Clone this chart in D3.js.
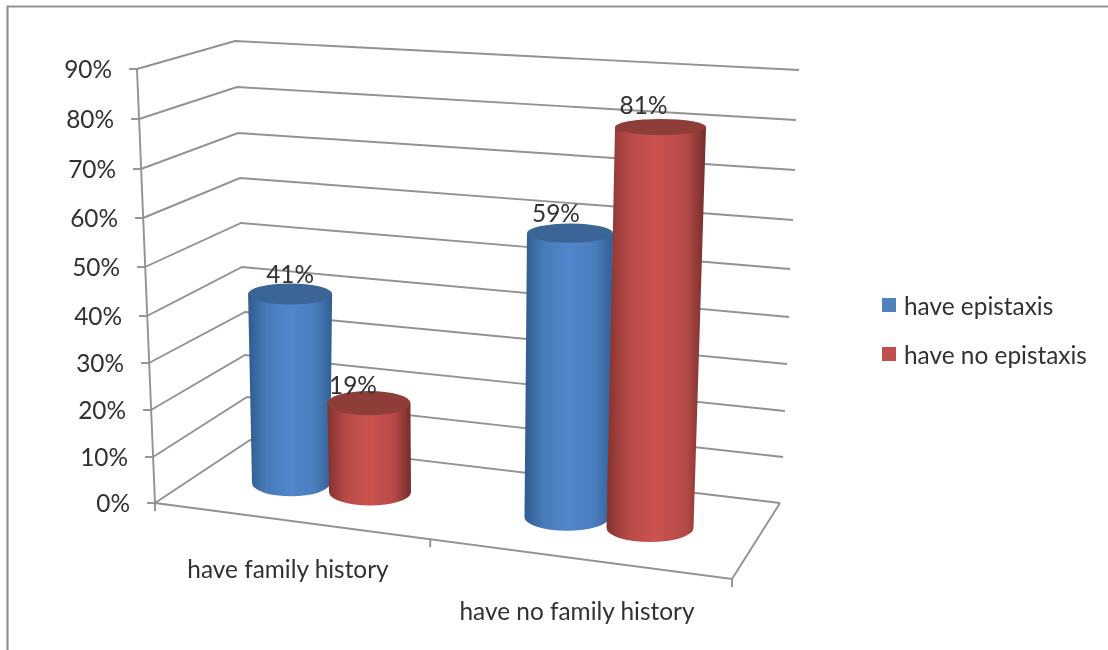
<!DOCTYPE html>
<html><head><meta charset="utf-8">
<script src="https://cdnjs.cloudflare.com/ajax/libs/d3/7.8.5/d3.min.js"></script>
<style>html,body{margin:0;padding:0;background:#fff;overflow:hidden}svg{display:block}text{font-family:Lato,"Open Sans",sans-serif;fill:#303030}</style>
</head><body>
<script>
// data
const categories = ["have family history", "have no family history"];
const seriesNames = ["have epistaxis", "have no epistaxis"];
const haveEpistaxis = [41, 59];
const haveNoEpistaxis = [19, 81];
const tickValues = [0,10,20,30,40,50,60,70,80,90];

// layout: projected corners of the 3D box read per gridline level
const leftY  = [503,457,410,363,316,267,218,169,119,69];
const leftX  = [155,153,151,149,147,145,143,141,139,137];
const backY  = [440,397,355,312,267,223,178,133,87,41];
const backX  = [250,247,245,245,242,241,240,238,237,235];
const rightY = [503,457,411,364,317,269,220,170,120,70];
const rightX = [780,783,785,787,789,790,793,795,796,799];
const sc = (r)=>d3.scaleLinear().domain(tickValues).range(r);
const L={x:sc(leftX),y:sc(leftY)},B={x:sc(backX),y:sc(backY)},R={x:sc(rightX),y:sc(rightY)};
const frontRight=[732,579];
const W=1108,H=650,FS=24.4,SW=1.9;
const svg=d3.select("body").append("svg").attr("width",W).attr("height",H);
const defs=svg.append("defs");
defs.append("filter").attr("id","soft").append("feGaussianBlur").attr("stdDeviation",0.5);
const grey="#929292";
// frame
svg.append("path").attr("d",`M7.5,${H}V6.5H${W}`).attr("fill","none").attr("stroke",grey).attr("stroke-width",2.2);
const g=svg.append("g").attr("filter","url(#soft)");
const line=d3.line();
// gridlines
g.selectAll("path.grid").data(tickValues).join("path").attr("class","grid")
 .attr("d",v=>line([[L.x(v),L.y(v)],[B.x(v),B.y(v)],[R.x(v),R.y(v)]]))
 .attr("fill","none").attr("stroke",grey).attr("stroke-width",SW);
// value axis + ticks
g.append("path").attr("d",line([[L.x(90),L.y(90)],[L.x(0),L.y(0)]])).attr("stroke",grey).attr("stroke-width",SW);
g.selectAll("path.tk").data(tickValues).join("path").attr("class","tk")
 .attr("d",v=>line([[L.x(v)-8,L.y(v)],[L.x(v),L.y(v)]])).attr("stroke",grey).attr("stroke-width",SW);
// floor front edge
const fl=[L.x(0),L.y(0)],br=[R.x(0),R.y(0)];
const fp=t=>[fl[0]+(frontRight[0]-fl[0])*t,fl[1]+(frontRight[1]-fl[1])*t];
g.append("path").attr("d",line([fl,frontRight,br])).attr("fill","none").attr("stroke",grey).attr("stroke-width",SW);
const catTicks=[0,0.477,1];
g.selectAll("path.ct").data(catTicks).join("path").attr("class","ct")
 .attr("d",t=>{const p=fp(t);return line([p,[p[0],p[1]+8]]);}).attr("stroke",grey).attr("stroke-width",SW);

// cylinders
const colors=[{e1:"#2f5b8e",e2:"#315f94",m:"#5287cb",cap:"#3b6596"},{e1:"#83332f",e2:"#732d2b",m:"#cb5350",cap:"#8e3c39"}];
colors.forEach((c,i)=>{
 const gr=defs.append("linearGradient").attr("id","cyl"+i);
 [[0,c.e1],[0.22,d3.interpolateRgb(c.e1,c.m)(0.72)],[0.5,c.m],[0.8,d3.interpolateRgb(c.e2,c.m)(0.75)],[1,c.e2]]
  .forEach(s=>gr.append("stop").attr("offset",s[0]).attr("stop-color",s[1]));
});
// per-bar projection frames: x, y, rx at 0 and at 90
const frames=[
 {s:0,c:0,x:[291,289],y:[483,68],r:[39,45.6]},
 {s:1,c:0,x:[370,365],y:[492,71],r:[41,43.4]},
 {s:0,c:1,x:[567,571.6],y:[517,84],r:[42.5,43.3]},
 {s:1,c:1,x:[650,661.7],y:[528,82.5],r:[43.5,45.7]}
];
const series=[haveEpistaxis,haveNoEpistaxis];
const ryOf=d3.scaleLinear().domain([120,530]).range([8,14]);
const labelOffset=[[0,-20],[-16,-19],[-14,-21],[-17,-23]];
const bars=g.selectAll("g.bar").data(frames).join("g").attr("class","bar");
bars.each(function(f,i){
 const v=series[f.s][f.c], z=d3.scaleLinear().domain([0,90]);
 const x=z.copy().range(f.x),y=z.copy().range(f.y),r=z.copy().range(f.r);
 const x0=x(0),y0=y(0),r0=r(0),ry0=ryOf(y0),x1=x(v),y1=y(v),r1=r(v),ry1=ryOf(y1);
 const s=d3.select(this);
 s.append("path").attr("fill",`url(#cyl${f.s})`)
  .attr("d",`M${x0-r0},${y0}A${r0},${ry0} 0 0 0 ${x0+r0},${y0}L${x1+r1},${y1}L${x1-r1},${y1}Z`);
 s.append("ellipse").attr("cx",x1).attr("cy",y1).attr("rx",r1).attr("ry",ry1).attr("fill",colors[f.s].cap);
});
const fmt=d=>d+"%";
// value labels
g.selectAll("text.val").data(frames).join("text").attr("class","val")
 .attr("x",(f,i)=>d3.scaleLinear().domain([0,90]).range(f.x)(series[f.s][f.c])+labelOffset[i][0])
 .attr("y",(f,i)=>d3.scaleLinear().domain([0,90]).range(f.y)(series[f.s][f.c])+labelOffset[i][1])
 .attr("text-anchor","middle").attr("dominant-baseline","central").attr("font-size",FS)
 .text(f=>fmt(series[f.s][f.c]));
// tick labels
g.selectAll("text.tl").data(tickValues).join("text").attr("class","tl")
 .attr("x",v=>L.x(v)-25).attr("y",v=>L.y(v)-1).attr("text-anchor","end").attr("dominant-baseline","central")
 .attr("font-size",FS).text(fmt);
// category labels
const catPos=[[288,568],[577,610]];
g.selectAll("text.cat").data(categories).join("text").attr("class","cat")
 .attr("x",(d,i)=>catPos[i][0]).attr("y",(d,i)=>catPos[i][1]).attr("text-anchor","middle").attr("dominant-baseline","central")
 .attr("font-size",FS).text(d=>d);
// legend
const lg=g.selectAll("g.lg").data(seriesNames).join("g").attr("class","lg").attr("transform",(d,i)=>`translate(882,${298+i*49})`);
lg.append("rect").attr("width",14).attr("height",14).attr("fill",(d,i)=>["#4f81bd","#c0504d"][i]);
lg.append("text").attr("x",22).attr("y",7).attr("dominant-baseline","central").attr("font-size",FS).text(d=>d);
</script>
</body></html>
